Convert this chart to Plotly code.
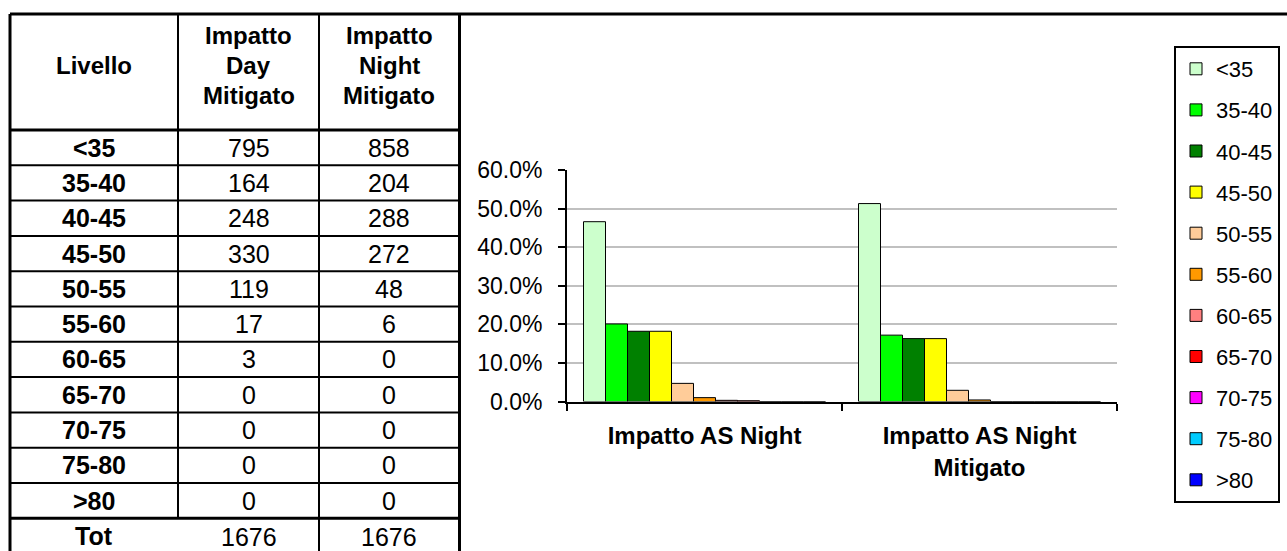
import plotly.graph_objects as go

# ---------------- data ----------------
levels = ["<35", "35-40", "40-45", "45-50", "50-55", "55-60", "60-65", "65-70", "70-75", "75-80", ">80"]
day_mitigato = [795, 164, 248, 330, 119, 17, 3, 0, 0, 0, 0]
night_mitigato = [858, 204, 288, 272, 48, 6, 0, 0, 0, 0, 0]
table_headers = [["Livello"], ["Impatto", "Day", "Mitigato"], ["Impatto", "Night", "Mitigato"]]
total_label = "Tot"

chart_categories = ["Impatto AS Night", "Impatto AS Night<br>Mitigato"]
# percentage share of each level, per category
as_night = [0.466, 0.201, 0.182, 0.182, 0.047, 0.010, 0.003, 0.002, 0.0, 0.0, 0.0]
as_night_mitigato = [0.513, 0.172, 0.163, 0.163, 0.029, 0.004, 0.0, 0.0, 0.0, 0.0, 0.0]

level_colors = ["#CCFFCC", "#00FF00", "#008000", "#FFFF00", "#FFCC99", "#FF9900",
                "#FF8080", "#FF0000", "#FF00FF", "#00CCFF", "#0000FF"]

# ---------------- layout helpers ----------------
W, H = 1287, 551
FONT = "Liberation Sans, Arial, sans-serif"


def px(x):
    return x / W


def py(y):
    return 1 - y / H


fig = go.Figure()

for i, lvl in enumerate(levels):
    fig.add_trace(go.Bar(
        name=lvl,
        x=chart_categories,
        y=[as_night[i], as_night_mitigato[i]],
        marker=dict(color=level_colors[i], line=dict(color="black", width=1)),
        legendgroup=lvl,
        hoverinfo="skip",
    ))

shapes = []
annotations = []


def hline(x0, x1, y, w=2):
    shapes.append(dict(type="line", xref="paper", yref="paper",
                       x0=px(x0), x1=px(x1), y0=py(y), y1=py(y),
                       line=dict(color="black", width=w)))


def vline(x, y0, y1, w=2):
    shapes.append(dict(type="line", xref="paper", yref="paper",
                       x0=px(x), x1=px(x), y0=py(y0), y1=py(y1),
                       line=dict(color="black", width=w)))


def text(x, y, s, size, bold=False):
    annotations.append(dict(xref="paper", yref="paper", x=px(x), y=py(y),
                            text=f"<b>{s}</b>" if bold else s, showarrow=False,
                            xanchor="center", yanchor="middle",
                            font=dict(family=FONT, size=size, color="black")))


# table geometry
tx0, tc1, tc2, tx1 = 10, 178, 319, 459.5
top, head_bot, row_h = 14, 130, 35.3
tot_top = head_bot + row_h * len(levels)
col_centers = [(tx0 + tc1) / 2, (tc1 + tc2) / 2, (tc2 + tx1) / 2]
head_center, head_line = 65, 30
body_size = 25

hline(tx0, W, top, 3)
vline(tx0, top, H, 3)
vline(tx1, top, H, 3)
vline(tc1, top, tot_top, 2)
vline(tc2, top, H, 2)
hline(tx0, tx1, head_bot, 3)
for k in range(1, len(levels)):
    hline(tx0, tx1, head_bot + row_h * k, 2)
hline(tx0, tx1, tot_top, 3)

for j, lines in enumerate(table_headers):
    n = len(lines)
    for m, line in enumerate(lines):
        text(col_centers[j], head_center + (m - (n - 1) / 2) * head_line, line, 24, bold=True)

for i, lvl in enumerate(levels):
    yc = head_bot + row_h * (i + 0.5)
    text(col_centers[0], yc, lvl, body_size, bold=True)
    text(col_centers[1], yc, str(day_mitigato[i]), body_size)
    text(col_centers[2], yc, str(night_mitigato[i]), body_size)

text(col_centers[0], tot_top + 18, total_label, body_size, bold=True)
text(col_centers[1], tot_top + 19, str(sum(day_mitigato)), body_size)
text(col_centers[2], tot_top + 19, str(sum(night_mitigato)), body_size)

# chart geometry
ax_x0, ax_x1 = 567, 1117
ax_y0, ax_y1 = 401.5, 170

fig.update_layout(
    width=W, height=H, autosize=False,
    margin=dict(l=0, r=0, t=0, b=0),
    paper_bgcolor="white", plot_bgcolor="white",
    barmode="group", bargap=0.12, bargroupgap=0,
    font=dict(family=FONT, color="black"),
    xaxis=dict(domain=[px(ax_x0), px(ax_x1)], type="category",
               showline=True, linecolor="black", linewidth=2,
               ticks="outside", tickson="boundaries", ticklen=7, tickcolor="black", tickwidth=1.5,
               tickfont=dict(family=FONT, size=24, color="black"),
               ticklabelstandoff=12, automargin=False, showgrid=False),
    yaxis=dict(domain=[py(ax_y0), py(ax_y1)], range=[0, 0.6], dtick=0.1, tickformat=".1%",
               showline=True, linecolor="black", linewidth=2,
               ticks="outside", ticklen=7, tickcolor="black", tickwidth=1.5,
               showgrid=True, gridcolor="#C0C0C0", gridwidth=1.5, zeroline=False,
               tickfont=dict(family=FONT, size=23, color="black"),
               ticklabelstandoff=11, automargin=False),
    legend=dict(x=px(1174), y=py(46), xanchor="left", yanchor="top",
                bordercolor="black", borderwidth=2, bgcolor="white",
                font=dict(family=FONT, size=22, color="black"),
                traceorder="grouped", tracegroupgap=9.5, itemwidth=30),
    shapes=shapes,
    annotations=annotations,
    showlegend=True,
)

# make x tick labels bold
fig.update_xaxes(ticktext=[f"<b>{c}</b>" for c in chart_categories], tickvals=chart_categories)

fig.write_html("out.html", config={"displayModeBar": False},
               post_script="document.body.style.margin='0';document.body.style.overflow='hidden';")
